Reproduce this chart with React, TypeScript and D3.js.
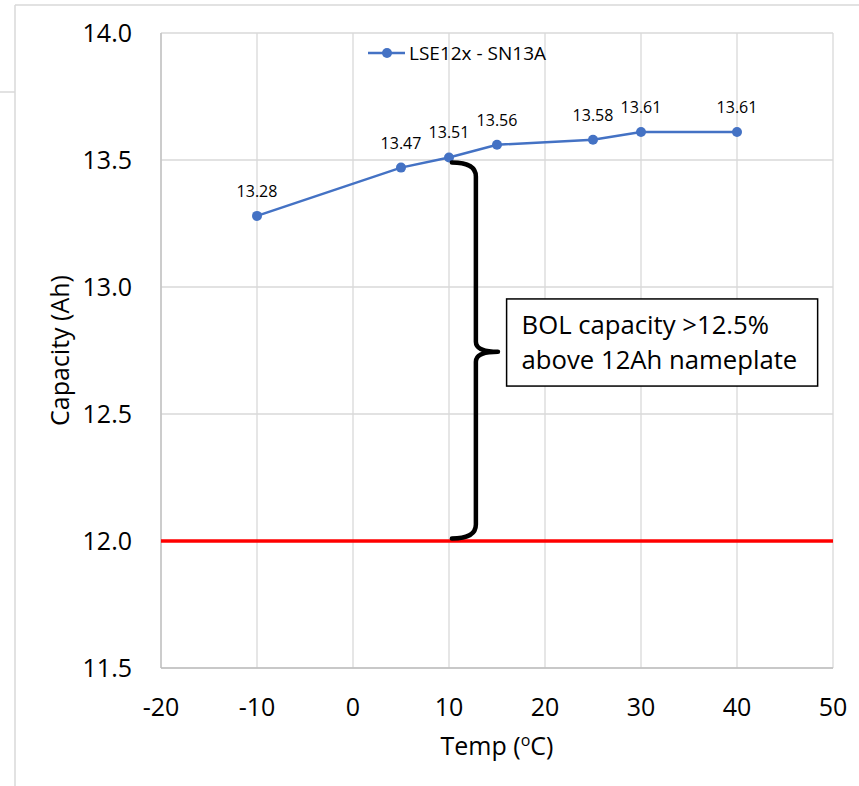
import React from "react";
import * as d3 from "d3";

const temps = [-10, 5, 10, 15, 25, 30, 40];
const capacities = [13.28, 13.47, 13.51, 13.56, 13.58, 13.61, 13.61];
const xTicks = [-20, -10, 0, 10, 20, 30, 40, 50];
const yTicks = [11.5, 12.0, 12.5, 13.0, 13.5, 14.0];
const seriesName = "LSE12x - SN13A";
const nameplate = 12.0;
const noteLines = ["BOL capacity >12.5%", "above 12Ah nameplate"];

const W = 859;
const H = 786;
const plot = { left: 161, right: 833, top: 33, bottom: 668 };
const FONT = "'Open Sans', 'Noto Sans', sans-serif";

export default function App() {
  const x = d3.scaleLinear().domain([-20, 50]).range([plot.left, plot.right]);
  const y = d3.scaleLinear().domain([11.5, 14.0]).range([plot.bottom, plot.top]);
  const pts = temps.map((t, i) => [t, capacities[i]] as [number, number]);
  const line = d3
    .line<[number, number]>()
    .x((d) => x(d[0]))
    .y((d) => y(d[1]));

  const bx0 = x(10.3);
  const bx1 = x(12.8);
  const bx2 = x(15.1);
  const by0 = y(13.49);
  const by1 = y(12.01);
  const bym = y(12.745);
  const brace =
    `M${bx0},${by0} Q${bx1},${by0} ${bx1},${by0 + 14} L${bx1},${bym - 10} Q${bx1},${bym} ${bx2},${bym}` +
    ` M${bx2},${bym} Q${bx1},${bym} ${bx1},${bym + 10} L${bx1},${by1 - 14} Q${bx1},${by1} ${bx0},${by1}`;

  const boxX0 = x(16.0);
  const boxX1 = x(48.4);
  const boxY0 = y(12.953);
  const boxY1 = y(12.61);

  return (
    <svg
      width={W}
      height={H}
      style={{ position: "absolute", left: 0, top: 0, background: "#fff" }}
      fontFamily={FONT}
    >
      <rect x={0} y={0} width={W} height={H} fill="#fff" />
      <line x1={15} y1={5} x2={W} y2={5} stroke="#d9d9d9" strokeWidth={1.5} />
      <line x1={15} y1={5} x2={15} y2={H} stroke="#d9d9d9" strokeWidth={1.5} />
      <line x1={0} y1={92} x2={15} y2={92} stroke="#d9d9d9" strokeWidth={1.5} />

      {xTicks.map((t) => (
        <line key={"gx" + t} x1={x(t)} x2={x(t)} y1={plot.top} y2={plot.bottom} stroke="#d9d9d9" strokeWidth={1.3} />
      ))}
      {yTicks.map((t) => (
        <line key={"gy" + t} x1={plot.left} x2={plot.right} y1={y(t)} y2={y(t)} stroke="#d9d9d9" strokeWidth={1.3} />
      ))}
      <line x1={plot.left} x2={plot.right} y1={plot.bottom} y2={plot.bottom} stroke="#bfbfbf" strokeWidth={1.3} />
      <line x1={plot.left} x2={plot.left} y1={plot.top} y2={plot.bottom} stroke="#bfbfbf" strokeWidth={1.3} />

      {yTicks.map((t) => (
        <text key={"ty" + t} x={132} y={y(t)} dy="0.36em" textAnchor="end" fontSize={25} fill="#000">
          {d3.format(".1f")(t)}
        </text>
      ))}
      {xTicks.map((t) => (
        <text key={"tx" + t} x={x(t)} y={707} dy="0.36em" textAnchor="middle" fontSize={25} fill="#000">
          {t}
        </text>
      ))}

      <text
        transform={`translate(60,${(plot.top + plot.bottom) / 2}) rotate(-90)`}
        dy="0.36em"
        textAnchor="middle"
        fontSize={25}
        fill="#000"
      >
        Capacity (Ah)
      </text>
      <text x={497} y={746} dy="0.36em" textAnchor="middle" fontSize={25} fill="#000">
        Temp (
        <tspan fontSize={16} dy="-0.55em">o</tspan>
        <tspan dy="0.35em">C)</tspan>
      </text>

      <line x1={plot.left} x2={plot.right} y1={y(nameplate)} y2={y(nameplate)} stroke="#ff0000" strokeWidth={3.5} />

      <path d={line(pts) || ""} fill="none" stroke="#4472C4" strokeWidth={2.5} />
      {pts.map((p, i) => (
        <circle key={"c" + i} cx={x(p[0])} cy={y(p[1])} r={5} fill="#4472C4" />
      ))}
      {pts.map((p, i) => (
        <text key={"l" + i} x={x(p[0])} y={y(p[1]) - 19} textAnchor="middle" fontSize={16} fill="#000">
          {d3.format(".2f")(p[1])}
        </text>
      ))}

      <line x1={368} x2={405} y1={53} y2={53} stroke="#4472C4" strokeWidth={2.5} />
      <circle cx={387} cy={53} r={5} fill="#4472C4" />
      <text x={409} y={53} dy="0.36em" fontSize={19} fill="#000">
        {seriesName}
      </text>

      <path d={brace} fill="none" stroke="#000" strokeWidth={4.5} strokeLinecap="round" strokeLinejoin="round" />

      <rect x={boxX0} y={boxY0} width={boxX1 - boxX0} height={boxY1 - boxY0} fill="#fff" stroke="#000" strokeWidth={1.5} />
      {noteLines.map((s, i) => (
        <text key={"n" + i} x={boxX0 + 15} y={334 + i * 35} fontSize={25.7} fill="#000">
          {s}
        </text>
      ))}
    </svg>
  );
}
